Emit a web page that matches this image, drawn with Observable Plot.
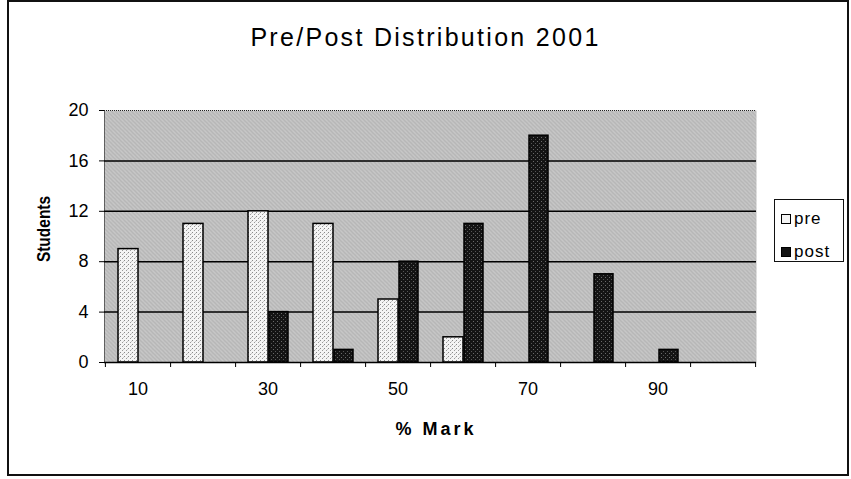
<!DOCTYPE html>
<html>
<head>
<meta charset="utf-8">
<script src="https://cdn.jsdelivr.net/npm/d3@7"></script>
<script src="https://cdn.jsdelivr.net/npm/@observablehq/plot@0.6"></script>
<style>
  html, body { margin: 0; padding: 0; background: #fff; }
  #wrap { position: relative; width: 851px; height: 479px; overflow: hidden; background: #fff;
          font-family: "Liberation Sans", Arial, sans-serif; color: #000; }
  #border { position: absolute; left: 7px; top: 0px; width: 842px; height: 476px; box-sizing: border-box;
            border: 2px solid #111; }
  #chart { position: absolute; left: 0; top: 0; }
  .title { position: absolute; left: 0; width: 851px; top: 25px; text-align: center;
           font-size: 25px; line-height: 25px; letter-spacing: 2.3px; }
  .xtitle { position: absolute; left: 336px; width: 200px; top: 420px; text-align: center;
            font-size: 18px; line-height: 18px; font-weight: bold; letter-spacing: 3px; }
  .ytitle { position: absolute; left: 44px; top: 229px; transform: translate(-50%, -50%) rotate(-90deg) scaleX(0.86);
            font-size: 18px; line-height: 18px; font-weight: bold; white-space: nowrap; }
  #legend { position: absolute; left: 774px; top: 199px; width: 70px; height: 63px; box-sizing: border-box;
            border: 1.5px solid #111; }
  .item { position: absolute; left: 6px; font-size: 17px; line-height: 17px; letter-spacing: 1px; white-space: nowrap; }
  .sw { display: inline-block; width: 8px; height: 8px; border: 1px solid #000; margin-right: 3px; vertical-align: 0px; }
</style>
</head>
<body>
<div id="wrap">
  <div id="chart"></div>
  <div id="border"></div>
  <div class="title" id="title"></div>
  <div class="xtitle" id="xtitle"></div>
  <div class="ytitle" id="ytitle"></div>
  <div id="legend"></div>
</div>
<script>
// ---- data ----
const categories = [10, 20, 30, 40, 50, 60, 70, 80, 90, 100];
const preValues  = [9, 11, 12, 11, 5, 2, 0, 0, 0, 0];
const postValues = [0, 0, 4, 1, 8, 11, 18, 7, 1, 0];
const seriesNames = ["pre", "post"];
const xTickLabels = [10, 30, 50, 70, 90];
const yTicks = [0, 4, 8, 12, 16, 20];
const titleText = "Pre/Post Distribution 2001";
const xTitleText = "% Mark";
const yTitleText = "Students";

const rows = categories.map((c, i) => ({mark: c, pre: preValues[i], post: postValues[i]}));

const W = 851, H = 479;
const mL = 104, mR = 95, mT = 110, mB = 117;
const halfBand = (W - mL - mR) / categories.length / 2;

const chart = Plot.plot({
  width: W, height: H,
  marginLeft: mL, marginRight: mR, marginTop: mT, marginBottom: mB,
  style: {fontFamily: "'Liberation Sans', Arial, sans-serif", fontSize: "18px", color: "black", background: "transparent", overflow: "visible"},
  x: {type: "band", domain: categories, padding: 0},
  y: {domain: [0, 20], ticks: yTicks, tickSize: 5, tickPadding: 11, line: true, label: null},
  marks: [
    Plot.frame({fill: "url(#stipple)", stroke: "none"}),
    Plot.ruleY([20], {stroke: "#222", strokeDasharray: "1,1"}),
    Plot.ruleY(yTicks.filter(t => t > 0 && t < 20), {stroke: "black", strokeWidth: 1.5}),
    Plot.barY(rows.filter(d => d.pre > 0), {x: "mark", y: "pre", fill: "url(#preFill)", stroke: "black", strokeWidth: 1.5, insetLeft: 13, insetRight: 32}),
    Plot.barY(rows.filter(d => d.post > 0), {x: "mark", y: "post", fill: "url(#postFill)", stroke: "black", strokeWidth: 1.5, insetLeft: 34, insetRight: 12}),
    Plot.ruleY([0], {stroke: "black", strokeWidth: 1.5}),
    Plot.axisX({ticks: xTickLabels, tickSize: 0, tickPadding: 20, label: null}),
    Plot.axisX({ticks: categories, tickSize: 5, tickFormat: () => "", dx: halfBand, label: null}),
    Plot.axisX({ticks: categories.slice(0, 1), tickSize: 5, tickFormat: () => "", dx: -halfBand, label: null})
  ]
});

// patterns for the stippled fills
const NS = "http://www.w3.org/2000/svg";
function el(name, attrs, parent) {
  const e = document.createElementNS(NS, name);
  for (const k in attrs) e.setAttribute(k, attrs[k]);
  if (parent) parent.appendChild(e);
  return e;
}
const defs = el("defs", {});
function pattern(id, size, bg, dots) {
  const p = el("pattern", {id, width: size, height: size, patternUnits: "userSpaceOnUse"}, defs);
  el("rect", {width: size, height: size, fill: bg}, p);
  for (const [x, y, c] of dots) el("rect", {x, y, width: 1, height: 1, fill: c}, p);
}
pattern("stipple", 4, "#e8e8e8", [[0,0,"#7a7a7a"],[2,0,"#9a9a9a"],[1,1,"#909090"],[3,1,"#a8a8a8"],[0,2,"#9c9c9c"],[2,2,"#7a7a7a"],[1,3,"#b0b0b0"],[3,3,"#909090"]]);
pattern("preFill", 4, "#f4f4f4", [[0,0,"#8a8a8a"],[2,2,"#9a9a9a"],[3,1,"#c8c8c8"]]);
pattern("postFill", 4, "#141414", [[1,1,"#6a6a6a"],[3,3,"#555"]]);
const svg = chart.tagName.toLowerCase() === "svg" ? chart : chart.querySelector("svg");
svg.insertBefore(defs, svg.firstChild);

document.getElementById("chart").appendChild(chart);
document.getElementById("title").textContent = titleText;
document.getElementById("xtitle").textContent = xTitleText;
document.getElementById("ytitle").textContent = yTitleText;

const legend = document.getElementById("legend");
const swFills = {pre: "#f4f4f4", post: "#141414"};
seriesNames.forEach((s, i) => {
  const item = document.createElement("div");
  item.className = "item";
  item.style.top = (i === 0 ? 10 : 43) + "px";
  const sw = document.createElement("span");
  sw.className = "sw";
  sw.style.background = swFills[s];
  item.appendChild(sw);
  item.appendChild(document.createTextNode(s));
  legend.appendChild(item);
});
</script>
</body>
</html>
